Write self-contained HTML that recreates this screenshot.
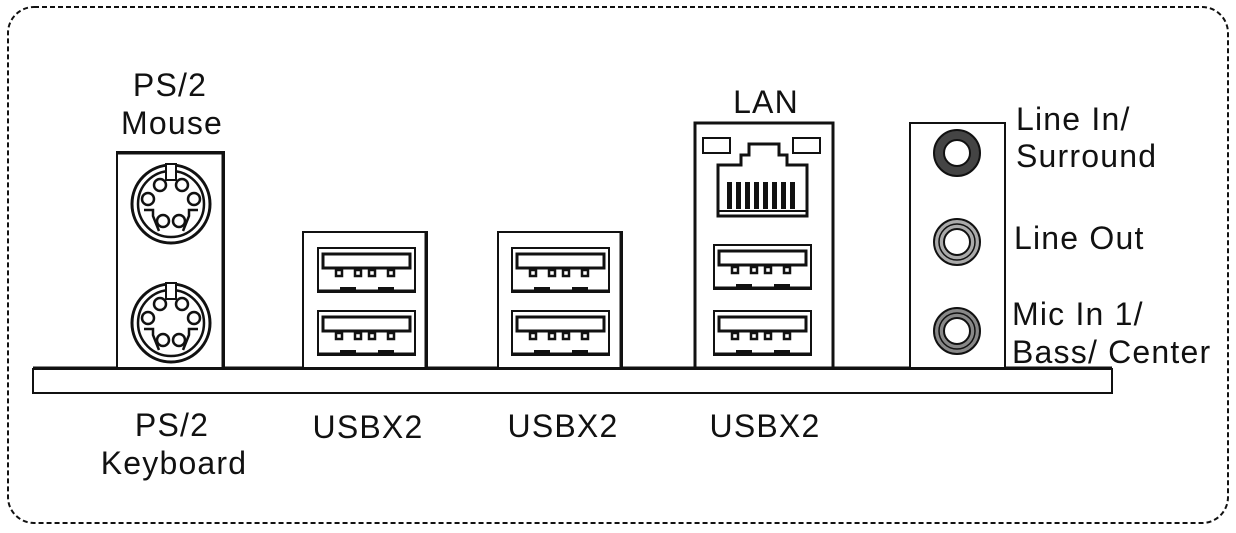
<!DOCTYPE html>
<html><head><meta charset="utf-8"><style>
html,body{margin:0;padding:0;background:#fff;width:1236px;height:533px;overflow:hidden}
text{font-family:"Liberation Sans",sans-serif;font-size:32px;letter-spacing:1.2px;fill:#111}
</style></head><body>
<svg width="1236" height="533" viewBox="0 0 1236 533" xmlns="http://www.w3.org/2000/svg">
<defs>
<g id="usb">
 <rect x="0" y="0" width="97" height="44" fill="#fff" stroke="#111" stroke-width="2"/>
 <line x1="0" y1="43" x2="97" y2="43" stroke="#111" stroke-width="3"/>
 <rect x="5" y="6" width="87" height="14" fill="#fff" stroke="#111" stroke-width="3"/>
 <rect x="18" y="22" width="6" height="6" fill="#fff" stroke="#111" stroke-width="2.5"/>
 <rect x="37" y="22" width="6" height="6" fill="#fff" stroke="#111" stroke-width="2.5"/>
 <rect x="51" y="22" width="6" height="6" fill="#fff" stroke="#111" stroke-width="2.5"/>
 <rect x="70" y="22" width="6" height="6" fill="#fff" stroke="#111" stroke-width="2.5"/>
 <rect x="22" y="39" width="16" height="3" fill="#111"/>
 <rect x="60" y="39" width="16" height="3" fill="#111"/>
</g>
<g id="ps2">
 <circle cx="0" cy="0" r="39" fill="#fff" stroke="#111" stroke-width="3"/>
 <circle cx="0" cy="0" r="33" fill="#fff" stroke="#111" stroke-width="2.5"/>
 <rect x="-5" y="-40" width="10" height="16" fill="#fff" stroke="#111" stroke-width="2"/>
 <circle cx="-11" cy="-19" r="6" fill="#fff" stroke="#111" stroke-width="2.5"/>
 <circle cx="11" cy="-19" r="6" fill="#fff" stroke="#111" stroke-width="2.5"/>
 <circle cx="-23" cy="-5" r="6" fill="#fff" stroke="#111" stroke-width="2.5"/>
 <circle cx="23" cy="-5" r="6" fill="#fff" stroke="#111" stroke-width="2.5"/>
 <circle cx="-8" cy="17" r="6" fill="#fff" stroke="#111" stroke-width="2.5"/>
 <circle cx="8" cy="17" r="6" fill="#fff" stroke="#111" stroke-width="2.5"/>
 <path d="M-27 6 L-18 6 L-18 12 L-12 27" fill="none" stroke="#111" stroke-width="2.5"/>
 <path d="M27 6 L18 6 L18 12 L12 27" fill="none" stroke="#111" stroke-width="2.5"/>
</g>
</defs>
<rect x="8" y="7" width="1220" height="516" rx="26" fill="none" stroke="#111" stroke-width="2" stroke-dasharray="5,3"/>

<rect x="33" y="369" width="1079" height="24" fill="#fff" stroke="#111" stroke-width="2"/>
<line x1="33" y1="368" x2="1112" y2="368" stroke="#111" stroke-width="3"/>

<!-- PS/2 -->
<rect x="117" y="152" width="107" height="216" fill="#fff" stroke="#111" stroke-width="2"/>
<line x1="117" y1="153" x2="224" y2="153" stroke="#111" stroke-width="3"/>
<line x1="223" y1="152" x2="223" y2="368" stroke="#111" stroke-width="3"/>
<use href="#ps2" x="171" y="204"/>
<use href="#ps2" x="171" y="323"/>

<!-- USB boxes -->
<rect x="303" y="232" width="124" height="136" fill="#fff" stroke="#111" stroke-width="2"/>
<line x1="426" y1="232" x2="426" y2="368" stroke="#111" stroke-width="3"/>
<use href="#usb" x="318" y="248"/>
<use href="#usb" x="318" y="311"/>

<rect x="498" y="232" width="124" height="136" fill="#fff" stroke="#111" stroke-width="2"/>
<line x1="621" y1="232" x2="621" y2="368" stroke="#111" stroke-width="3"/>
<use href="#usb" x="512" y="248"/>
<use href="#usb" x="512" y="311"/>

<!-- LAN -->
<rect x="695" y="123" width="138" height="245" fill="#fff" stroke="#111" stroke-width="3"/>
<rect x="703" y="138" width="27" height="15" fill="#fff" stroke="#111" stroke-width="2"/>
<rect x="793" y="138" width="27" height="15" fill="#fff" stroke="#111" stroke-width="2"/>
<path d="M718 216 L718 165 L741 165 L741 155 L749 155 L749 144 L779 144 L779 155 L787 155 L787 165 L807 165 L807 216 Z" fill="#fff" stroke="#111" stroke-width="3"/>
<line x1="718" y1="211" x2="807" y2="211" stroke="#111" stroke-width="2"/>
<g fill="#111">
<rect x="727" y="182" width="5" height="27"/><rect x="736" y="182" width="5" height="27"/>
<rect x="745" y="182" width="5" height="27"/><rect x="754" y="182" width="5" height="27"/>
<rect x="763" y="182" width="5" height="27"/><rect x="772" y="182" width="5" height="27"/>
<rect x="781" y="182" width="5" height="27"/><rect x="790" y="182" width="5" height="27"/>
</g>
<use href="#usb" x="714" y="245"/>
<use href="#usb" x="714" y="311"/>

<!-- Audio -->
<rect x="910" y="123" width="95" height="245" fill="#fff" stroke="#111" stroke-width="2"/>
<circle cx="957" cy="153" r="23" fill="#444" stroke="#111" stroke-width="2"/>
<circle cx="957" cy="153" r="13" fill="#fff" stroke="#111" stroke-width="2"/>
<circle cx="957" cy="242" r="23" fill="#aaa" stroke="#111" stroke-width="2"/>
<circle cx="957" cy="242" r="18" fill="none" stroke="#111" stroke-width="1.5"/>
<circle cx="957" cy="242" r="13" fill="#fff" stroke="#111" stroke-width="2"/>
<circle cx="957" cy="331" r="23" fill="#888" stroke="#111" stroke-width="2"/>
<circle cx="957" cy="331" r="18" fill="none" stroke="#111" stroke-width="1.5"/>
<circle cx="957" cy="331" r="13" fill="#fff" stroke="#111" stroke-width="2"/>

<!-- labels -->
<text x="170" y="96" text-anchor="middle">PS/2</text>
<text x="172" y="134" text-anchor="middle">Mouse</text>
<text x="172" y="436" text-anchor="middle">PS/2</text>
<text x="174" y="474" text-anchor="middle">Keyboard</text>
<text x="368" y="438" text-anchor="middle">USBX2</text>
<text x="563" y="437" text-anchor="middle">USBX2</text>
<text x="765" y="437" text-anchor="middle">USBX2</text>
<text x="766" y="113" text-anchor="middle">LAN</text>
<text x="1016" y="130">Line In/</text>
<text x="1016" y="167">Surround</text>
<text x="1014" y="249">Line Out</text>
<text x="1012" y="325">Mic In 1/</text>
<text x="1012" y="363">Bass/ Center</text>
</svg>
</body></html>
